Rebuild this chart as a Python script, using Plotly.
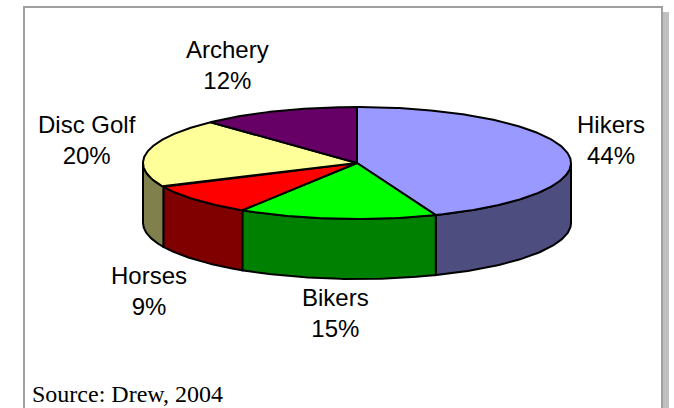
import numpy as np
import plotly.graph_objects as go

# ---- data ----
categories = ["Hikers", "Bikers", "Horses", "Disc Golf", "Archery"]
values = [44, 15, 9, 20, 12]
pct_labels = ["44%", "15%", "9%", "20%", "12%"]
source_text = "Source: Drew, 2004"

# ---- styles / layout constants ----
top_colors = ["#9999FF", "#00FF00", "#FF0000", "#FFFF99", "#660066"]
side_colors = ["#4D4D80", "#008000", "#800000", "#80804D", "#330033"]
W, H = 674, 408
CX, CY, RX, RY, DEPTH = 357, 163, 214, 56, 60
label_pos = [(611, 140), (335, 313), (149, 291), (87, 140), (227, 65)]

total = float(sum(values))
angles = []
start = 0.0
for v in values:
    end = start + 360.0 * v / total
    angles.append((start, end))
    start = end


def pt(theta_deg, dy=0.0):
    t = np.radians(theta_deg)
    return CX + RX * np.sin(t), CY - RY * np.cos(t) + dy


fig = go.Figure()

# side walls (front half only)
for i, (a0, a1) in enumerate(angles):
    lo, hi = max(a0, 90.0), min(a1, 270.0)
    if hi > lo:
        th = np.linspace(lo, hi, 80)
        xt, yt = pt(th)
        xb, yb = pt(th[::-1], DEPTH)
        xs = np.concatenate([xt, xb, xt[:1]])
        ys = np.concatenate([yt, yb, yt[:1]])
        fig.add_trace(go.Scatter(
            x=xs, y=ys, mode="lines", fill="toself",
            fillcolor=side_colors[i],
            line=dict(color="black", width=2),
            hoverinfo="skip", showlegend=False))

# top faces
for i, (a0, a1) in enumerate(angles):
    n = max(int((a1 - a0) * 1.5), 10)
    th = np.linspace(a0, a1, n)
    x, y = pt(th)
    xs = np.concatenate([[CX], x, [CX]])
    ys = np.concatenate([[CY], y, [CY]])
    fig.add_trace(go.Scatter(
        x=xs, y=ys, mode="lines", fill="toself",
        fillcolor=top_colors[i],
        line=dict(color="black", width=2),
        hoverinfo="text", text=f"{categories[i]} {pct_labels[i]}",
        showlegend=False))

annotations = []
for i, cat in enumerate(categories):
    lx, ly = label_pos[i]
    annotations.append(dict(
        x=lx, y=ly, xref="x", yref="y",
        text=f"{cat}<br>{pct_labels[i]}",
        showarrow=False, xanchor="center", yanchor="middle",
        font=dict(family="Liberation Sans, Arial, sans-serif", size=24, color="black")))

annotations.append(dict(
    x=30, y=394, xref="x", yref="y", text=source_text,
    showarrow=False, xanchor="left", yanchor="middle",
    font=dict(family="Liberation Serif, Times New Roman, serif", size=24, color="black")))

shapes = [
    dict(type="rect", xref="x", yref="y", x0=663, x1=669, y0=12, y1=420,
         fillcolor="#C0C0C0", line=dict(width=0), layer="below"),
    dict(type="rect", xref="x", yref="y", x0=24, x1=662, y0=7, y1=430,
         fillcolor="white", line=dict(color="#A0A0A0", width=2), layer="below"),
]

fig.update_layout(
    width=W, height=H,
    margin=dict(l=0, r=0, t=0, b=0),
    paper_bgcolor="white", plot_bgcolor="white",
    xaxis=dict(range=[0, W], visible=False, fixedrange=True),
    yaxis=dict(range=[H, 0], visible=False, fixedrange=True),
    annotations=annotations,
    shapes=shapes,
)

fig.write_html(
    "out.html",
    config={"displayModeBar": False},
    post_script="document.body.style.margin='0';document.body.style.overflow='hidden';",
)
